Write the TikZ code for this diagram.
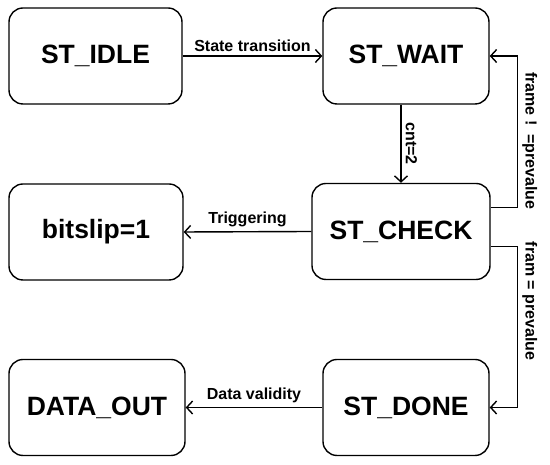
\documentclass[tikz,border=0pt]{standalone}
\usepackage{fontspec}
\setmainfont{Liberation Sans}
\usetikzlibrary{positioning, arrows.meta}

\begin{document}
\begin{tikzpicture}[x=1pt, y=1pt,
		block/.style={draw, rectangle, minimum width=166pt, minimum height=96pt,
			align=center, rounded corners=14pt, line width=1.4pt,
			font=\fontsize{26.5}{30}\selectfont\bfseries},
		arrow/.style={-{Straight Barb[length=6pt, width=13pt]}, line width=1.4pt},
		lbl/.style={font=\fontsize{16}{19}\selectfont\bfseries, inner sep=4pt},
		]
		\useasboundingbox (0,0) rectangle (550,465);
		
		\node[block, minimum width=173pt] (idle)    at (95.5, 409)  {ST\_IDLE};
		\node[block]                      (wait)    at (406, 409)   {ST\_WAIT};
		\node[block, minimum width=174pt] (bitslip) at (96, 233)    {bitslip=1};
		\node[block, minimum width=178pt] (check)   at (401, 233.5) {ST\_CHECK};
		\node[block, minimum width=176pt] (dataout) at (97, 57.5)   {DATA\_OUT};
		\node[block]                      (done)    at (406, 57.5)  {ST\_DONE};
		
		\draw[arrow] (idle.east) -- node[lbl, above]{State transition} (wait.west);
		\draw[arrow] (check.north |- wait.south) -- node[lbl, rotate=-90, anchor=south]{cnt=2} (check.north);
		\draw[arrow] (check.west) -- node[lbl, above]{Triggering} (bitslip.east);
		\draw[arrow] (done.west) -- node[lbl, above]{Data validity} (dataout.east);
		
		% loops on the right side
		\draw[arrow] ([yshift=24pt]check.east) -- ++(27,0)
			|- node[lbl, rotate=-90, anchor=south, pos=0.22]{frame !\ \ =prevalue} (wait.east);
		\draw[arrow] ([yshift=-15pt]check.east) -- ++(27,0)
			|- node[lbl, rotate=-90, anchor=south, pos=0.17]{fram = prevalue} (done.east);
		
	\end{tikzpicture}
\end{document}
